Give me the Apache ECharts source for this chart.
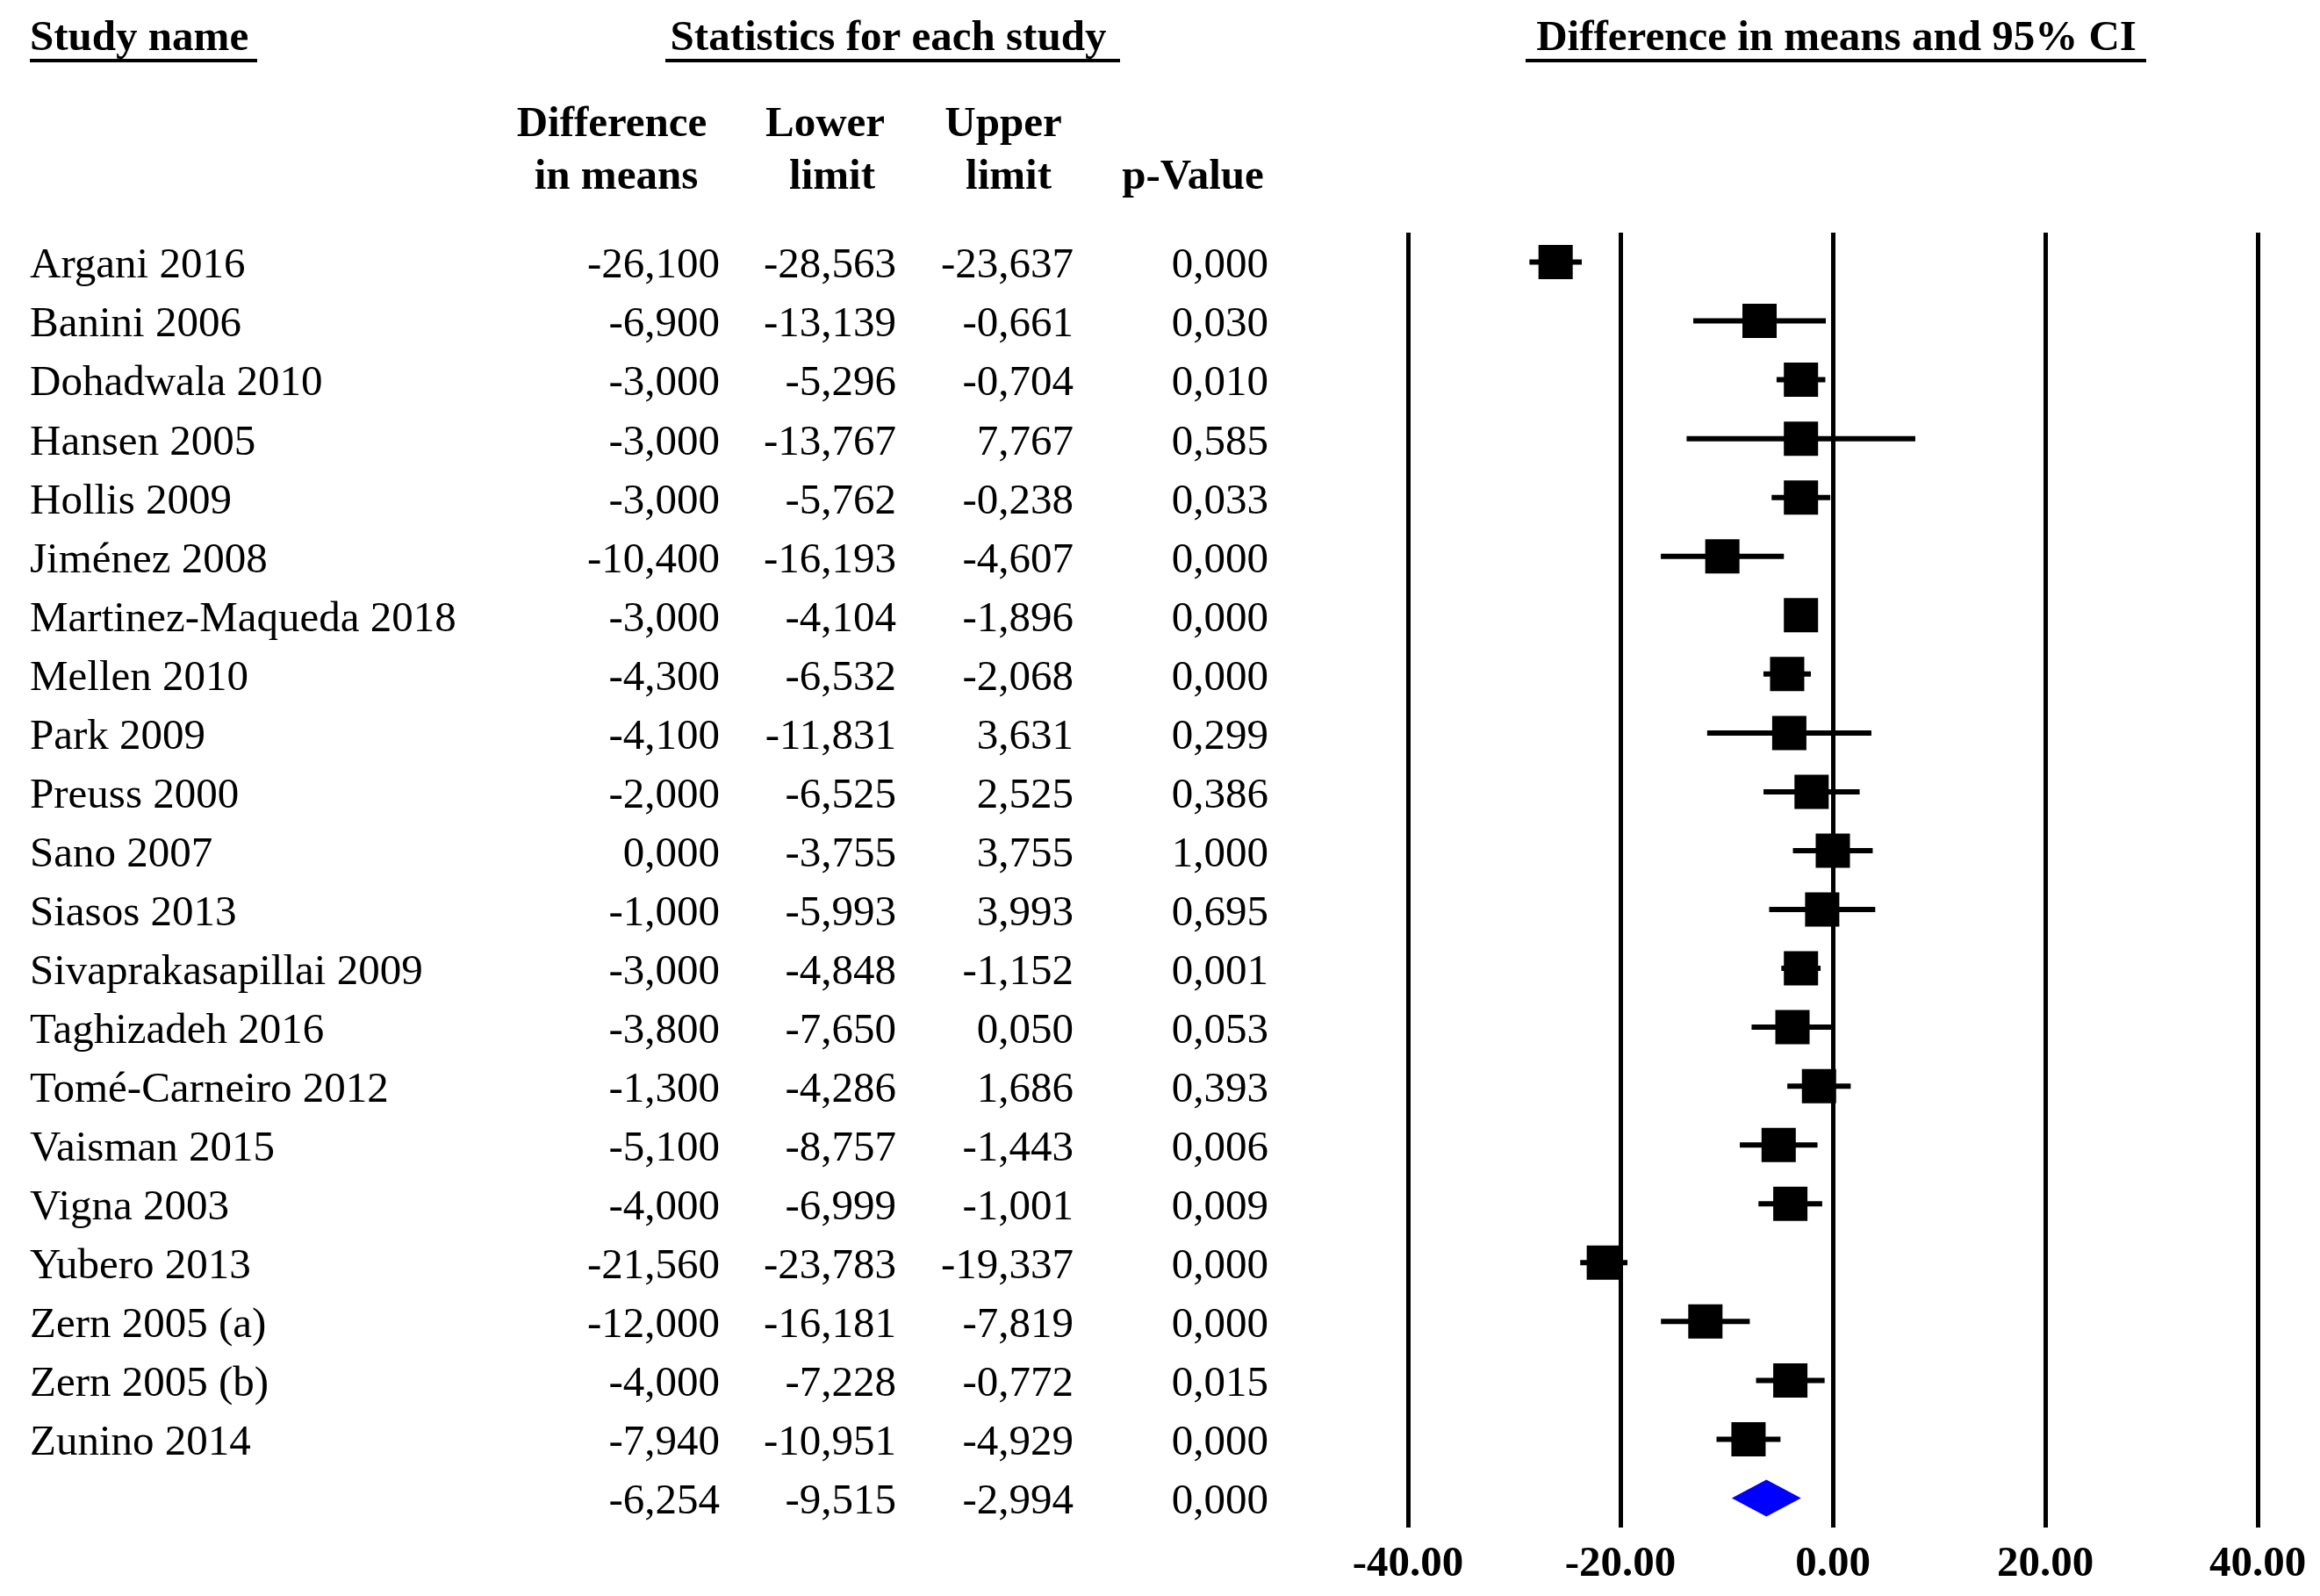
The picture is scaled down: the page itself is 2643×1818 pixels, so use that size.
<!DOCTYPE html>
<html>
<head>
<meta charset="utf-8">
<script src="https://cdn.jsdelivr.net/npm/echarts@6/dist/echarts.min.js"></script>
<style>
  html, body { margin: 0; padding: 0; background: #fff; }
  #chart { width: 2643px; height: 1818px; }
</style>
</head>
<body>
<div id="chart"></div>
<script>
// rows of the forest plot, last row is the pooled estimate (no name)
const studies = ['Argani 2016', 'Banini 2006', 'Dohadwala 2010', 'Hansen 2005', 'Hollis 2009',
  'Jiménez 2008', 'Martinez-Maqueda 2018', 'Mellen 2010', 'Park 2009', 'Preuss 2000', 'Sano 2007',
  'Siasos 2013', 'Sivaprakasapillai 2009', 'Taghizadeh 2016', 'Tomé-Carneiro 2012', 'Vaisman 2015',
  'Vigna 2003', 'Yubero 2013', 'Zern 2005 (a)', 'Zern 2005 (b)', 'Zunino 2014', ''];
const diffs  = [-26.100, -6.900, -3.000, -3.000, -3.000, -10.400, -3.000, -4.300, -4.100, -2.000, 0.000,
  -1.000, -3.000, -3.800, -1.300, -5.100, -4.000, -21.560, -12.000, -4.000, -7.940, -6.254];
const lowers = [-28.563, -13.139, -5.296, -13.767, -5.762, -16.193, -4.104, -6.532, -11.831, -6.525, -3.755,
  -5.993, -4.848, -7.650, -4.286, -8.757, -6.999, -23.783, -16.181, -7.228, -10.951, -9.515];
const uppers = [-23.637, -0.661, -0.704, 7.767, -0.238, -4.607, -1.896, -2.068, 3.631, 2.525, 3.755,
  3.993, -1.152, 0.050, 1.686, -1.443, -1.001, -19.337, -7.819, -0.772, -4.929, -2.994];
const pValues = [0.000, 0.030, 0.010, 0.585, 0.033, 0.000, 0.000, 0.000, 0.299, 0.386, 1.000,
  0.695, 0.001, 0.053, 0.393, 0.006, 0.009, 0.000, 0.000, 0.015, 0.000, 0.000];
const xTicks = { min: -40, max: 40, step: 20 };

const FONT = 'Liberation Serif';
const FS = 49;
const last = studies.length - 1;
const rowIdx = studies.map((_, i) => i);
const fmt = v => v.toFixed(3).replace('.', ',');

const chart = echarts.init(document.getElementById('chart'), null, { renderer: 'canvas' });

const txt = (text, x, y, align, bold) => ({
  type: 'text', x, y,
  style: { text, font: `${bold ? 'bold ' : ''}${FS}px "${FONT}"`, fill: '#000', align, verticalAlign: 'middle' }
});
const uline = (x1, x2, y) => ({
  type: 'line', shape: { x1, y1: y, x2, y2: y }, style: { stroke: '#000', lineWidth: 4 }
});

// table columns: [text getter, x, align]
const columns = [
  [i => studies[i], 34, 'left'],
  [i => fmt(diffs[i]), 820, 'right'],
  [i => fmt(lowers[i]), 1021, 'right'],
  [i => fmt(uppers[i]), 1223, 'right'],
  [i => fmt(pValues[i]), 1445, 'right']
];

chart.setOption({
  animation: false,
  backgroundColor: '#fff',
  grid: [
    { left: 1604, right: 71, top: 265, bottom: 78 },
    { left: 0, width: 1560, top: 265, bottom: 78 }
  ],
  xAxis: [
    {
      type: 'value', gridIndex: 0, min: xTicks.min, max: xTicks.max, interval: xTicks.step,
      axisLine: { show: false }, axisTick: { show: false },
      splitLine: { show: true, lineStyle: { color: '#000', width: 5 } },
      axisLabel: { margin: 18, color: '#000', fontFamily: FONT, fontWeight: 'bold', fontSize: FS,
        formatter: v => v.toFixed(2) }
    },
    { type: 'value', gridIndex: 1, min: 0, max: 1560, show: false }
  ],
  yAxis: [
    { type: 'category', gridIndex: 0, data: rowIdx, inverse: true, show: false },
    { type: 'category', gridIndex: 1, data: rowIdx, inverse: true, show: false }
  ],
  series: [
    {
      type: 'custom',
      xAxisIndex: 0, yAxisIndex: 0,
      data: rowIdx.map(i => [diffs[i], i, lowers[i], uppers[i]]),
      encode: { x: [0, 2, 3], y: 1 },
      renderItem: (params, api) => {
        const i = api.value(1);
        const c = api.coord([api.value(0), i]);
        const lo = api.coord([api.value(2), i]);
        const hi = api.coord([api.value(3), i]);
        if (i === last) {
          return {
            type: 'polygon',
            shape: { points: [[lo[0], c[1]], [c[0], c[1] - 21], [hi[0], c[1]], [c[0], c[1] + 21]] },
            style: { fill: '#0000ff' }
          };
        }
        const s = 39;
        return {
          type: 'group',
          children: [
            { type: 'line', shape: { x1: lo[0], y1: c[1], x2: hi[0], y2: c[1] }, style: { stroke: '#000', lineWidth: 6 } },
            { type: 'rect', shape: { x: c[0] - s / 2, y: c[1] - s / 2, width: s, height: s }, style: { fill: '#000' } }
          ]
        };
      }
    },
    {
      type: 'custom',
      xAxisIndex: 1, yAxisIndex: 1,
      data: rowIdx.map(i => [0, i]),
      renderItem: (params, api) => {
        const i = api.value(1);
        return {
          type: 'group',
          children: columns.map(([get, x, align]) => {
            const p = api.coord([x, i]);
            return txt(get(i), p[0], p[1] + 5, align, false);
          })
        };
      }
    }
  ],
  graphic: [
    txt('Study name', 34, 44, 'left', true),
    uline(34, 293, 69),
    txt('Statistics for each study', 1012, 44, 'center', true),
    uline(758, 1276, 69),
    txt('Difference in means and 95% CI', 2092, 44, 'center', true),
    uline(1738, 2445, 69),
    txt('Difference', 697, 142, 'center', true),
    txt('in means', 702, 202, 'center', true),
    txt('Lower', 940, 142, 'center', true),
    txt('limit', 948, 202, 'center', true),
    txt('Upper', 1143, 142, 'center', true),
    txt('limit', 1149, 202, 'center', true),
    txt('p-Value', 1359, 202, 'center', true)
  ]
});
</script>
</body>
</html>
